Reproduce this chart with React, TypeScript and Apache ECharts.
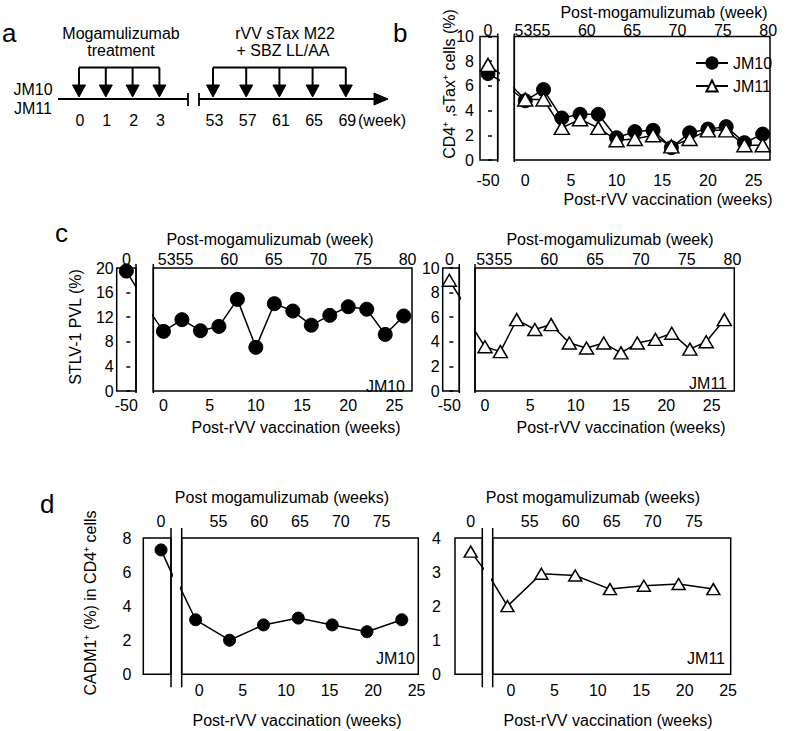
import React, { useEffect, useRef } from "react";
import * as echarts from "echarts";

const FONT = "'Liberation Sans', Arial, Helvetica, sans-serif";

// ---- Panel a: treatment schedule ----
const mogaWeeks = [0, 1, 2, 3];
const vaccWeeks = [53, 57, 61, 65, 69];
const subjects = ["JM10", "JM11"];

// ---- Panel b: CD4+ sTax+ cells (%) ----
const bWeeks = [0, 2, 4, 6, 8, 10, 12, 14, 16, 18, 20, 22, 24, 26];
const bJM10 = [4.8, 5.7, 3.4, 3.7, 3.7, 1.8, 2.3, 2.4, 1.0, 2.2, 2.5, 2.7, 1.4, 2.1];
const bJM11 = [4.9, 4.9, 2.6, 3.3, 2.6, 1.6, 1.7, 2.0, 1.1, 1.7, 2.4, 2.4, 1.2, 1.2];
const bPreJM10 = 7.0;
const bPreJM11 = 7.7;

// ---- Panel c: STLV-1 PVL (%) ----
const cJM10Weeks = [0, 2, 4, 6, 8, 10, 12, 14, 16, 18, 20, 22, 24, 26];
const cJM10 = [9.7, 11.6, 9.8, 10.5, 14.9, 7.1, 14.2, 13.0, 10.7, 12.3, 13.7, 13.3, 9.2, 12.2];
const cPreJM10 = 19.5;
const cJM11Weeks = [0, 1.7, 3.5, 5.5, 7.3, 9.3, 11.2, 13.1, 15, 16.8, 18.8, 20.6, 22.6, 24.4, 26.4];
const cJM11 = [3.6, 3.2, 5.8, 5.0, 5.4, 3.9, 3.5, 3.9, 3.1, 3.9, 4.2, 4.7, 3.4, 4.0, 5.8];
const cPreJM11 = 9.0;

// ---- Panel d: CADM1+ (%) in CD4+ cells ----
const dWeeks = [-0.4, 3.5, 7.4, 11.4, 15.3, 19.3, 23.3];
const dJM10 = [3.2, 2.0, 2.9, 3.3, 2.9, 2.5, 3.2];
const dJM11 = [2.0, 2.95, 2.9, 2.5, 2.6, 2.65, 2.5];
const dPreJM10 = 7.3;
const dPreJM11 = 3.6;

// ---- Tick labels ----
const preWeek = -50;
const bottomTicks = [0, 5, 10, 15, 20, 25];
const topTicksBC = [53, 55, 60, 65, 70, 75, 80];
const topTicksD = [55, 60, 65, 70, 75];

const circle = (size: number) => ({
  symbol: "circle",
  symbolSize: size,
  itemStyle: { color: "#000", borderColor: "#000", borderWidth: 1 },
  lineStyle: { color: "#000", width: 1.5 },
});
const tri = (size: any) => ({
  symbol: "triangle",
  symbolSize: size,
  itemStyle: { color: "#fff", borderColor: "#000", borderWidth: 1.5 },
  lineStyle: { color: "#000", width: 1.5 },
});

type S = { name: string; pre: number; weeks: number[]; values: number[]; style: any };
type P = {
  top: number; height: number; small: [number, number]; main: [number, number];
  yMax: number; yInt: number; yMargin: number; yTicks: boolean;
  smallRange: [number, number]; mainRange: [number, number]; topRange: [number, number];
  topTicks: number[]; smallBottom: number[]; bottomMargin: number; topMargin: number;
  ext: [number, number]; smallLink: number; mainLink: number; series: S[];
};

const panels: P[] = [
  {
    top: 36.5, height: 123.5, small: [480, 17.7], main: [514.3, 255.7],
    yMax: 10, yInt: 2, yMargin: 6, yTicks: true,
    smallRange: [-54.5, -44.5], mainRange: [-1.2, 26.8], topRange: [52, 80.2],
    topTicks: topTicksBC, smallBottom: [preWeek], bottomMargin: 12, topMargin: -2,
    ext: [3, 2], smallLink: -23, mainLink: -3.8,
    series: [
      { name: subjects[0], pre: bPreJM10, weeks: bWeeks, values: bJM10, style: circle(14) },
      { name: subjects[1], pre: bPreJM11, weeks: bWeeks, values: bJM11, style: tri([15, 13]) },
    ],
  },
  {
    top: 268, height: 123, small: [116.7, 19.3], main: [153.3, 258.7],
    yMax: 20, yInt: 4, yMargin: 3, yTicks: true,
    smallRange: [-55, -45], mainRange: [-1.1, 26.9], topRange: [51.5, 80.5],
    topTicks: topTicksBC, smallBottom: [preWeek], bottomMargin: 6, topMargin: 1,
    ext: [4, 2], smallLink: -31, mainLink: -4.5,
    series: [{ name: "c-" + subjects[0], pre: cPreJM10, weeks: cJM10Weeks, values: cJM10, style: circle(14) }],
  },
  {
    top: 268, height: 123, small: [442.7, 16.6], main: [475, 259.3],
    yMax: 10, yInt: 2, yMargin: 3, yTicks: true,
    smallRange: [-54, -44], mainRange: [-1.1, 27.5], topRange: [51.9, 80.2],
    topTicks: topTicksBC, smallBottom: [preWeek], bottomMargin: 6, topMargin: 1,
    ext: [4, 2], smallLink: -25, mainLink: -4.7,
    series: [{ name: "c-" + subjects[1], pre: cPreJM11, weeks: cJM11Weeks, values: cJM11, style: tri([14, 12]) }],
  },
  {
    top: 538, height: 136.3, small: [143.3, 27.7], main: [181.7, 236.6],
    yMax: 8, yInt: 2, yMargin: 12, yTicks: false,
    smallRange: [-56.4, -46.4], mainRange: [-2, 25.2], topRange: [50.5, 79.5],
    topTicks: topTicksD, smallBottom: [], bottomMargin: 8, topMargin: 9,
    ext: [10, 13], smallLink: -38.5, mainLink: -4.25,
    series: [{ name: "d-" + subjects[0], pre: dPreJM10, weeks: dWeeks, values: dJM10, style: circle(12) }],
  },
  {
    top: 538, height: 136.3, small: [455, 27.3], main: [492.7, 238],
    yMax: 4, yInt: 1, yMargin: 14, yTicks: false,
    smallRange: [-55.75, -45.75], mainRange: [-2.1, 25.3], topRange: [50.5, 79.5],
    topTicks: topTicksD, smallBottom: [], bottomMargin: 8, topMargin: 9,
    ext: [10, 13], smallLink: -35, mainLink: -4.2,
    series: [{ name: "d-" + subjects[1], pre: dPreJM11, weeks: dWeeks, values: dJM11, style: tri([13, 11]) }],
  },
];

const lbl = (x: number, y: number, text: string, fontSize = 16, align = "center", rotation = 0) => ({
  type: "text",
  x,
  y,
  rotation,
  silent: true,
  style: {
    text,
    fontSize,
    fontFamily: FONT,
    fill: "#000",
    align,
    verticalAlign: "middle",
    textAlign: align,
    textVerticalAlign: "middle",
  },
});
const seg = (x1: number, y1: number, x2: number, y2: number, w = 1.8) => ({
  type: "line",
  silent: true,
  shape: { x1, y1, x2, y2 },
  style: { stroke: "#000", lineWidth: w },
});
const head = (pts: number[][]) => ({
  type: "polygon",
  silent: true,
  shape: { points: pts },
  style: { fill: "#000", stroke: "#000", lineWidth: 1 },
});

function buildOption() {
  const grids: any[] = [];
  const xAxes: any[] = [];
  const yAxes: any[] = [];
  const series: any[] = [];
  const graphics: any[] = [];

  const axisLabel = (vals: number[], margin: number, fmt?: (v: number) => string) => ({
    show: vals.length > 0,
    customValues: vals,
    margin,
    fontSize: 16,
    fontFamily: FONT,
    color: "#000",
    formatter: fmt,
  });

  panels.forEach((p) => {
    [p.small, p.main].forEach((g, k) => {
      const isSmall = k === 0;
      const gi = grids.length;
      grids.push({
        left: g[0], top: p.top, width: g[1], height: p.height,
        show: true, borderColor: "#000", borderWidth: 1.5, backgroundColor: "transparent",
        containLabel: false, outerBoundsMode: "none",
      });
      const range = isSmall ? p.smallRange : p.mainRange;
      xAxes.push({
        type: "value", gridIndex: gi, position: "bottom", min: range[0], max: range[1],
        axisLine: { show: false }, axisTick: { show: false }, splitLine: { show: false },
        axisLabel: axisLabel(isSmall ? p.smallBottom : bottomTicks, p.bottomMargin),
      });
      const topRange = isSmall ? [range[0] - preWeek, range[1] - preWeek] : p.topRange;
      xAxes.push({
        type: "value", gridIndex: gi, position: "top", min: topRange[0], max: topRange[1],
        axisLine: { show: false }, axisTick: { show: false }, splitLine: { show: false },
        axisLabel: axisLabel(isSmall ? [0] : p.topTicks, p.topMargin),
      });
      yAxes.push({
        type: "value", gridIndex: gi, min: 0, max: p.yMax, interval: p.yInt,
        show: isSmall, position: "left",
        axisLine: { show: false }, splitLine: { show: false },
        axisTick: { show: isSmall && p.yTicks, inside: true, length: 4, lineStyle: { color: "#000", width: 1.5 } },
        axisLabel: { show: isSmall, margin: p.yMargin, fontSize: 16, fontFamily: FONT, color: "#000" },
      });
    });
    const gSmall = grids.length - 2;
    const gMain = grids.length - 1;
    p.series.forEach((s) => {
      series.push({
        type: "line", name: s.name + "-pre", xAxisIndex: gSmall * 2, yAxisIndex: gSmall,
        silent: true, clip: true, z: 3, ...s.style,
        data: [[preWeek, s.pre], { value: [p.smallLink, s.values[0]], symbol: "none" }],
      });
      series.push({
        type: "line", name: s.name, xAxisIndex: gMain * 2, yAxisIndex: gMain,
        silent: true, clip: true, z: 3, ...s.style,
        data: [{ value: [p.mainLink, s.pre], symbol: "none" }, ...s.weeks.map((w, i) => [w, s.values[i]])],
      });
    });
    // axis-break lines
    const bottom = p.top + p.height;
    const xs = p.small[0] + p.small[1];
    const xm = p.main[0];
    graphics.push(seg(xs, p.top - p.ext[0], xs, bottom + p.ext[1], 1.5));
    graphics.push(seg(xm, p.top - p.ext[0], xm, bottom + p.ext[1], 1.5));
  });

  // ---- Panel a schematic ----
  const leftX = (i: number) => 79 + i * 26.8;
  const rightX = (i: number) => 213 + i * 33.2;
  const bracketY = 67.5;
  graphics.push(seg(leftX(0), bracketY, leftX(mogaWeeks.length - 1), bracketY, 2));
  graphics.push(seg(rightX(0), bracketY, rightX(vaccWeeks.length - 1), bracketY, 2));
  mogaWeeks.forEach((w, i) => {
    const x = leftX(i);
    graphics.push(seg(x, bracketY, x, 87, 2));
    graphics.push(head([[x - 6.5, 85], [x + 6.5, 85], [x, 97]]));
    graphics.push(lbl(x + 1, 120, String(w)));
  });
  vaccWeeks.forEach((w, i) => {
    const x = rightX(i);
    graphics.push(seg(x, bracketY, x, 87, 2));
    graphics.push(head([[x - 6.5, 85], [x + 6.5, 85], [x, 97]]));
    graphics.push(lbl(x + 1.5, 120, String(w)));
  });
  graphics.push(seg(58, 99, 188, 99, 2));
  graphics.push(seg(188, 93, 188, 106, 1.8));
  graphics.push(seg(199, 93, 199, 106, 1.8));
  graphics.push(seg(199, 99, 377, 99, 2));
  graphics.push(head([[374, 93], [388, 99], [374, 105]]));
  graphics.push(lbl(358, 120, "(week)", 16, "left"));
  graphics.push(lbl(33, 89, subjects[0]));
  graphics.push(lbl(33, 108, subjects[1]));
  graphics.push(lbl(121, 33, "Mogamulizumab"));
  graphics.push(lbl(121, 50, "treatment"));
  graphics.push(lbl(285, 33, "rVV sTax M22"));
  graphics.push(lbl(283, 50, "+ SBZ LL/AA"));

  // panel letters
  graphics.push(lbl(2, 33, "a", 26, "left"));
  graphics.push(lbl(393, 33, "b", 26, "left"));
  graphics.push(lbl(55, 233, "c", 26, "left"));
  graphics.push(lbl(40, 504, "d", 26, "left"));

  // axis titles
  graphics.push(lbl(664, 12, "Post-mogamulizumab (week)"));
  graphics.push(lbl(668, 199, "Post-rVV vaccination (weeks)"));
  graphics.push(lbl(449, 84, "CD4⁺ ,sTax⁺ cells (%)", 16, "center", Math.PI / 2));

  graphics.push(lbl(270, 239, "Post-mogamulizumab (week)"));
  graphics.push(lbl(610, 239, "Post-mogamulizumab (week)"));
  graphics.push(lbl(296, 427, "Post-rVV vaccination (weeks)"));
  graphics.push(lbl(621, 427, "Post-rVV vaccination (weeks)"));
  graphics.push(lbl(75, 327, "STLV-1 PVL (%)", 16, "center", Math.PI / 2));
  graphics.push(lbl(405, 386, subjects[0], 16, "right"));
  graphics.push(lbl(727, 383, subjects[1], 16, "right"));

  graphics.push(lbl(282, 497, "Post mogamulizumab (weeks)"));
  graphics.push(lbl(593, 497, "Post mogamulizumab (weeks)"));
  graphics.push(lbl(297, 720, "Post-rVV vaccination (weeks)"));
  graphics.push(lbl(608, 720, "Post-rVV vaccination (weeks)"));
  graphics.push(lbl(90, 603, "CADM1⁺ (%) in CD4⁺ cells", 16, "center", Math.PI / 2));
  graphics.push(lbl(415, 658, subjects[0], 16, "right"));
  graphics.push(lbl(725, 658, subjects[1], 16, "right"));

  return {
    animation: false,
    backgroundColor: "#fff",
    textStyle: { fontFamily: FONT, color: "#000" },
    legend: {
      data: subjects,
      left: 690,
      top: 50,
      orient: "vertical",
      itemWidth: 32,
      itemHeight: 14,
      itemGap: 7,
      selectedMode: false,
      textStyle: { fontSize: 16, fontFamily: FONT, color: "#000" },
    },
    grid: grids,
    xAxis: xAxes,
    yAxis: yAxes,
    series,
    graphic: { elements: graphics },
  };
}

export default function App() {
  const ref = useRef<HTMLDivElement>(null);
  useEffect(() => {
    const chart = echarts.init(ref.current!, null, { renderer: "svg" });
    chart.setOption(buildOption() as any);
    return () => chart.dispose();
  }, []);
  return (
    <div
      ref={ref}
      style={{ position: "fixed", left: 0, top: 0, width: 787, height: 731, background: "#fff" }}
    />
  );
}
